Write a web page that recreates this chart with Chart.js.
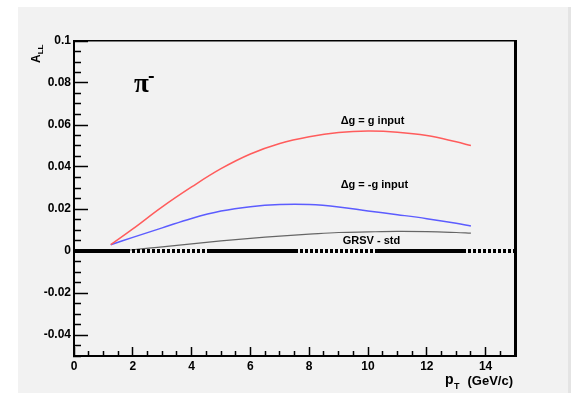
<!DOCTYPE html>
<html>
<head>
<meta charset="utf-8">
<script src="https://cdn.jsdelivr.net/npm/chart.js@4.4.1/dist/chart.umd.min.js"></script>
<style>
    body { margin: 0; background: #fff; }
    #panel { position: absolute; left: 18px; top: 7px; width: 550px; height: 386px; background: #f2f2f2; border-right: 3px solid #e4e4e4; }
    #chart { position: absolute; left: 0; top: 0; }
</style>
</head>
<body>
<div id="panel"></div>
<canvas id="chart" width="575" height="396"></canvas>
<script>
// valores
const pT = [1.25, 2, 3, 4, 5, 6, 7, 8, 9, 10, 11, 12, 13, 13.5];
const dgPlusG = [0.003, 0.0105, 0.021, 0.0305, 0.0392, 0.0462, 0.0512, 0.0544, 0.0564, 0.0571, 0.0566, 0.055, 0.052, 0.0502];
const dgMinusG = [0.003, 0.0065, 0.011, 0.0155, 0.019, 0.0211, 0.0221, 0.0221, 0.021, 0.0191, 0.0173, 0.0154, 0.0132, 0.0119];
const grsvStd = [0.0, 0.0006, 0.002, 0.0034, 0.0048, 0.006, 0.0071, 0.008, 0.0088, 0.0091, 0.0093, 0.0092, 0.0088, 0.0085];
const zeroX = [0, 15];
const zeroY = [0, 0];
const curveLabels = ['\u0394g = g input', '\u0394g = -g input', 'GRSV - std'];
const xTickLabels = ['0', '2', '4', '6', '8', '10', '12', '14'];
const yTickLabels = ['-0.04', '-0.02', '0', '0.02', '0.04', '0.06', '0.08', '0.1'];

const toPoints = (xs, ys) => xs.map((v, i) => ({ x: v, y: ys[i] }));
const findLabel = (list, v) => list.find(l => Math.abs(parseFloat(l) - v) < 1e-9);

// padrão da linha do zero: traço longo + pontinhos
const dots = [];
for (let i = 0; i < 15; i++) dots.push(2, 3);
dots.push(2);

const font = 'Liberation Sans';

const textPlugin = {
    id: 'texts',
    afterDraw(chart) {
        const { ctx, chartArea, scales: { x, y } } = chart;
        ctx.save();
        ctx.fillStyle = '#000';

        // rótulos das curvas
        const labelPos = [[9.07, 0.0619], [9.07, 0.0314], [9.14, 0.0048]];
        ctx.font = 'bold 11px "' + font + '"';
        ctx.textBaseline = 'middle';
        ctx.textAlign = 'left';
        curveLabels.forEach((t, i) => {
            ctx.fillText(t, x.getPixelForValue(labelPos[i][0]), y.getPixelForValue(labelPos[i][1]));
        });

        // pi menos
        ctx.textBaseline = 'alphabetic';
        ctx.font = 'bold 27px "Liberation Serif"';
        const px = chartArea.left + 60, py = chartArea.top + 51;
        ctx.fillText('\u03c0', px, py);
        const pw = ctx.measureText('\u03c0').width;
        ctx.fillRect(px + pw, py - 16, 5, 2);

        // título eixo x
        ctx.textAlign = 'right';
        ctx.font = 'bold 13px "' + font + '"';
        const right = chartArea.right - 2;
        ctx.fillText('(GeV/c)', right, 385);
        const gw = ctx.measureText('(GeV/c)').width;
        ctx.font = 'bold 9px "' + font + '"';
        ctx.fillText('T', right - gw - 8, 389);
        ctx.font = 'bold 14px "' + font + '"';
        ctx.fillText('p', right - gw - 14, 384);

        // título eixo y
        ctx.translate(40, 63);
        ctx.rotate(-Math.PI / 2);
        ctx.textAlign = 'left';
        ctx.font = 'bold 12px "' + font + '"';
        ctx.fillText('A', 0, 0);
        const aw = ctx.measureText('A').width;
        ctx.font = 'bold 8px "' + font + '"';
        ctx.fillText('LL', aw, 3);
        ctx.restore();
    }
};

new Chart(document.getElementById('chart'), {
    type: 'line',
    data: {
        datasets: [
            {
                data: toPoints(zeroX, zeroY),
                borderColor: '#000',
                borderWidth: 4,
                borderDash: [91, ...dots],
                borderDashOffset: 35,
                borderCapStyle: 'butt',
                pointRadius: 0
            },
            {
                data: toPoints(pT, dgPlusG),
                borderColor: '#ff5c5c',
                borderWidth: 1.5,
                tension: 0.4,
                pointRadius: 0
            },
            {
                data: toPoints(pT, dgMinusG),
                borderColor: '#5c5cff',
                borderWidth: 1.5,
                tension: 0.4,
                pointRadius: 0
            },
            {
                data: toPoints(pT, grsvStd),
                borderColor: '#666',
                borderWidth: 1.2,
                tension: 0.4,
                pointRadius: 0
            }
        ]
    },
    options: {
        responsive: false,
        animation: false,
        devicePixelRatio: 1,
        layout: { padding: { left: 18, top: 41, right: 60, bottom: 0 } },
        plugins: {
            legend: { display: false },
            tooltip: { enabled: false }
        },
        scales: {
            x: {
                type: 'linear',
                position: 'bottom',
                min: 0,
                max: 15,
                afterFit: s => { s.height = 40; },
                border: { color: '#000', width: 2 },
                grid: {
                    drawOnChartArea: false,
                    tickLength: -9,
                    tickColor: '#000',
                    tickWidth: 1.5,
                    tickBorderDash: c => findLabel(xTickLabels, c.tick.value) ? [] : [6, 100]
                },
                ticks: {
                    stepSize: 0.5,
                    maxTicksLimit: 100,
                    autoSkip: false,
                    maxRotation: 0,
                    padding: 12,
                    color: '#000',
                    font: { family: font, size: 12, weight: 'bold' },
                    callback: v => findLabel(xTickLabels, v) || ''
                }
            },
            y: {
                type: 'linear',
                position: 'left',
                min: -0.05,
                max: 0.1,
                afterFit: s => { s.width = 56; },
                border: { color: '#000', width: 2 },
                grid: {
                    drawOnChartArea: false,
                    tickLength: -14,
                    tickColor: '#000',
                    tickWidth: 1.5,
                    tickBorderDash: c => findLabel(yTickLabels, c.tick.value) ? [] : [0, 7, 8, 100]
                },
                ticks: {
                    stepSize: 0.005,
                    maxTicksLimit: 100,
                    autoSkip: false,
                    padding: 17,
                    color: '#000',
                    font: { family: font, size: 12, weight: 'bold' },
                    callback: v => findLabel(yTickLabels, v) || ''
                }
            },
            xFrame: {
                axis: 'x',
                type: 'linear',
                position: 'top',
                afterFit: s => { s.height = 0; },
                border: { color: '#000', width: 1.5 },
                grid: { display: false, drawTicks: false },
                ticks: { display: false }
            },
            yFrame: {
                axis: 'y',
                type: 'linear',
                position: 'right',
                afterFit: s => { s.width = 0; },
                border: { color: '#000', width: 3 },
                grid: { display: false, drawTicks: false },
                ticks: { display: false }
            }
        }
    },
    plugins: [textPlugin]
});
</script>
</body>
</html>
